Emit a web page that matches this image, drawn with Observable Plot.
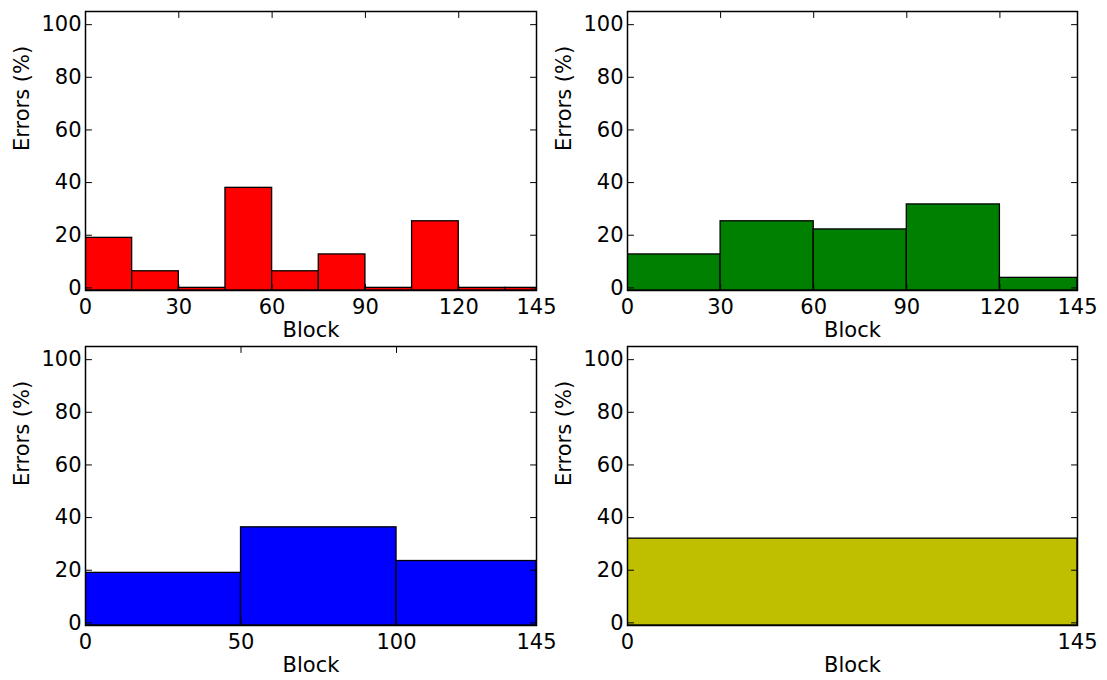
<!DOCTYPE html>
<html>
<head>
<meta charset="utf-8">
<script src="https://cdn.jsdelivr.net/npm/d3@7"></script>
<script src="https://cdn.jsdelivr.net/npm/@observablehq/plot@0.6"></script>
<style>
  html, body { margin: 0; padding: 0; background: #fff; }
  #wrap { position: relative; width: 1107px; height: 680px; background: #fff; overflow: hidden; }
  .panel { position: absolute; }
</style>
</head>
<body>
<div id="wrap"></div>
<script>
// ---- data ----
const redEdges = [0, 15, 30, 45, 60, 75, 90, 105, 120, 135, 145];
const redValues = [19, 6.3, 0, 38, 6.3, 12.7, 0, 25.3, 0, 0];
const redTicks = [0, 30, 60, 90, 120, 145];

const greenEdges = [0, 30, 60, 90, 120, 145];
const greenValues = [12.7, 25.3, 22.2, 31.7, 3.8];
const greenTicks = [0, 30, 60, 90, 120, 145];

const blueEdges = [0, 50, 100, 145];
const blueValues = [19, 36.3, 23.5];
const blueTicks = [0, 50, 100, 145];

const yellowEdges = [0, 145];
const yellowValues = [32];
const yellowTicks = [0, 145];

const yTicks = [0, 20, 40, 60, 80, 100];
const xLabel = ["Block"];
const yLabel = ["Errors (%)"];

const panels = [
  {edges: redEdges, values: redValues, ticks: redTicks, color: "#ff0000", left: 0, top: 0, width: 580, ml: 85, mr: 44},
  {edges: greenEdges, values: greenValues, ticks: greenTicks, color: "#008000", left: 553, top: 0, width: 554, ml: 74, mr: 30},
  {edges: blueEdges, values: blueValues, ticks: blueTicks, color: "#0000ff", left: 0, top: 335, width: 580, ml: 85, mr: 44},
  {edges: yellowEdges, values: yellowValues, ticks: yellowTicks, color: "#bfbf00", left: 553, top: 335, width: 554, ml: 74, mr: 30}
];

// plain line tick shape (pointing "up" before rotation)
const tickShape = {draw(context, l) { context.moveTo(0, 0); context.lineTo(0, -l); }};

const wrap = document.getElementById("wrap");
for (const p of panels) {
  const bins = p.values.map((v, i) => ({x1: p.edges[i], x2: p.edges[i + 1], y: v}));
  const tickOpts = {length: 6, anchor: "start", stroke: "black", strokeWidth: 1, shape: tickShape};
  const chart = Plot.plot({
    width: p.width,
    height: 340,
    marginLeft: p.ml,
    marginRight: p.mr,
    marginTop: 11,
    marginBottom: 50,
    style: {fontFamily: "'DejaVu Sans', sans-serif", fontSize: "21px", background: "transparent", color: "black", overflow: "visible"},
    x: {domain: [0, 145]},
    y: {domain: [-1, 105]},
    marks: [
      Plot.rectY(bins, {x1: "x1", x2: "x2", y1: -1, y2: "y", fill: p.color, stroke: "black", strokeWidth: 1.3, clip: true}),
      // inward ticks on all four sides
      Plot.vector(yTicks, {...tickOpts, y: d => d, frameAnchor: "left", rotate: 90}),
      Plot.vector(yTicks, {...tickOpts, y: d => d, frameAnchor: "right", rotate: -90}),
      Plot.vector(p.ticks, {...tickOpts, x: d => d, frameAnchor: "bottom", rotate: 0}),
      Plot.vector(p.ticks, {...tickOpts, x: d => d, frameAnchor: "top", rotate: 180}),
      Plot.axisX({ticks: p.ticks, tickSize: 0, tickPadding: 9, label: null, tickFormat: d => String(d)}),
      Plot.axisY({ticks: yTicks, tickSize: 0, tickPadding: 4, label: null, tickFormat: d => String(d)}),
      Plot.frame({stroke: "black", strokeWidth: 1.5}),
      Plot.text(xLabel, {frameAnchor: "bottom", dy: 46, text: d => d, fill: "black"}),
      Plot.text(yLabel, {frameAnchor: "left", dx: -63, rotate: -90, text: d => d, fill: "black"})
    ]
  });
  const div = document.createElement("div");
  div.className = "panel";
  div.style.left = p.left + "px";
  div.style.top = p.top + "px";
  div.appendChild(chart);
  wrap.appendChild(div);
}
</script>
</body>
</html>
